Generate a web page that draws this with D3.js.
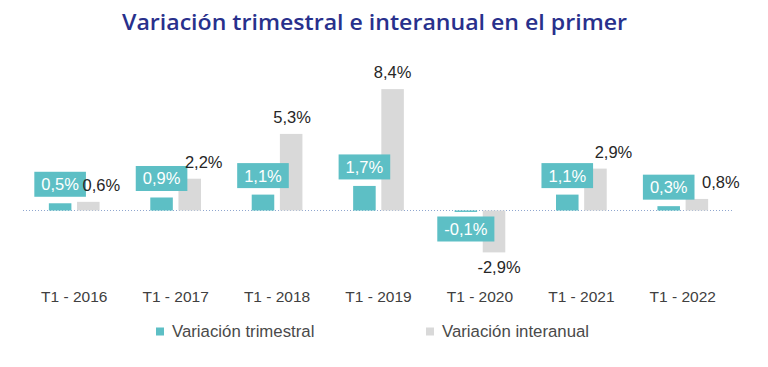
<!DOCTYPE html>
<html><head><meta charset="utf-8">
<script src="https://cdn.jsdelivr.net/npm/d3@7"></script>
<style>
html,body{margin:0;padding:0;background:#fff;}
svg{display:block;}
</style></head>
<body>
<svg id="chart" width="768" height="367"></svg>
<script>
const title = "Variación trimestral e interanual en el primer";
const categories = ["T1 - 2016","T1 - 2017","T1 - 2018","T1 - 2019","T1 - 2020","T1 - 2021","T1 - 2022"];
const seriesNames = ["Variación trimestral","Variación interanual"];
const trimestral = [0.5, 0.9, 1.1, 1.7, -0.1, 1.1, 0.3];
const interanual = [0.6, 2.2, 5.3, 8.4, -2.9, 2.9, 0.8];
// manual horizontal nudges of the interanual data labels (layout only)
const interLabelNudge = [13, 14, 1, 0, 5, 18, 24];

const colors = ["#5DBFC5", "#D9D9D9"];
const fmt = v => d3.format(".1f")(v).replace("\u2212", "-").replace(".", ",") + "%";

const svg = d3.select("#chart");

// title
svg.append("text").attr("x", 374.5).attr("y", 30)
  .attr("text-anchor","middle")
  .attr("textLength", 505).attr("lengthAdjust","spacingAndGlyphs")
  .style("font-family","'Open Sans', Lato, sans-serif")
  .style("font-size","22px").style("font-weight","600")
  .style("fill","#28308C").text(title);

const x0 = d3.scaleBand().domain(categories).range([23.5, 733.5]).paddingInner(0.5).paddingOuter(0.25);
const x1 = d3.scaleBand().domain(seriesNames).range([0, x0.bandwidth()]).paddingInner(0.2);
const y = d3.scaleLinear().domain([-3, 8.5]).range([210.5 + 3*14.45, 210.5 - 8.5*14.45]);

const data = categories.map((c,i)=>({cat:c, vals:[trimestral[i], interanual[i]], i}));

// baseline
svg.append("line").attr("x1", 23).attr("x2", 733).attr("y1", y(0)).attr("y2", y(0))
  .attr("stroke","#8FA6CF").attr("stroke-width",1).attr("stroke-dasharray","1,2");

const g = svg.append("g").selectAll("g").data(data).join("g")
  .attr("transform", d=>`translate(${x0(d.cat)},0)`);

g.selectAll("rect").data(d=>d.vals.map((v,k)=>({v,k}))).join("rect")
  .attr("x", d=>x1(seriesNames[d.k]))
  .attr("width", x1.bandwidth())
  .attr("y", d=>Math.min(y(d.v), y(0)))
  .attr("height", d=>Math.max(1.2, Math.abs(y(d.v)-y(0))))
  .attr("fill", d=>colors[d.k]);

// trimestral labels: teal boxes with white text
const lbl = svg.append("g");
data.forEach(d=>{
  const v = d.vals[0];
  const cx = x0(d.cat) + x1(seriesNames[0]) + x1.bandwidth()/2;
  const txt = fmt(v);
  const t = lbl.append("text").attr("x", cx).attr("text-anchor","middle")
    .style("font-family","Arial, 'Liberation Sans', sans-serif")
    .style("font-size","16.5px").style("fill","#fff").text(txt);
  const w = t.node().getComputedTextLength() + 14;
  const h = 25;
  let top;
  if (v >= 0) top = y(v) - 6.5 - h; else top = y(0) + 6;
  lbl.insert("rect", "text").attr("x", cx - w/2).attr("y", top).attr("width", w).attr("height", h)
    .attr("fill", colors[0]);
  t.attr("y", top + h/2 + 6);
});

// interanual labels
data.forEach(d=>{
  const v = d.vals[1];
  const cx = x0(d.cat) + x1(seriesNames[1]) + x1.bandwidth()/2 + interLabelNudge[d.i];
  const cy = v >= 0 ? y(v) - 17 : y(v) + 15;
  svg.append("text").attr("x", cx).attr("y", cy + 6).attr("text-anchor","middle")
    .style("font-family","Arial, 'Liberation Sans', sans-serif")
    .style("font-size","16.5px").style("fill","#262626").text(fmt(v));
});

// category axis labels
svg.append("g").selectAll("text").data(categories).join("text")
  .attr("x", d=>x0(d)+x0.bandwidth()/2).attr("y", 302)
  .attr("text-anchor","middle")
  .style("font-family","Arial, 'Liberation Sans', sans-serif")
  .style("font-size","15.5px").style("fill","#404040").text(d=>d);

// legend
const legX = [156, 426];
seriesNames.forEach((s,k)=>{
  svg.append("rect").attr("x", legX[k]).attr("y", 327.5).attr("width", 8).attr("height", 8).attr("fill", colors[k]);
  svg.append("text").attr("x", legX[k] + 16).attr("y", 337)
    .style("font-family","Arial, 'Liberation Sans', sans-serif")
    .style("font-size","16.8px").style("fill","#4A4A4A").text(s);
});
</script>
</body></html>
